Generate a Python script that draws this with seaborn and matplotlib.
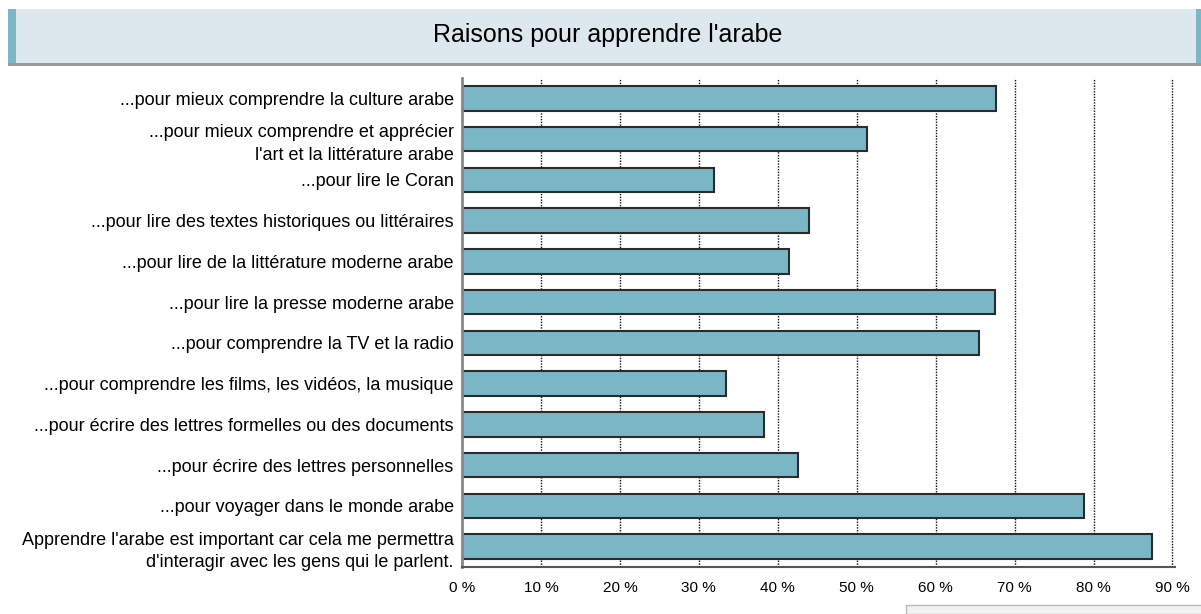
"""
Raisons pour apprendre l'arabe : barres horizontales
"""

import matplotlib
matplotlib.use("Agg")
import matplotlib.pyplot as plt
import matplotlib.ticker as mticker
from matplotlib.patches import Rectangle
import numpy as np
import pandas as pd
import seaborn as sns

# --- données ---
raisons = [
    "...pour mieux comprendre la culture arabe",
    "...pour mieux comprendre et apprécier\nl'art et la littérature arabe",
    "...pour lire le Coran",
    "...pour lire des textes historiques ou littéraires",
    "...pour lire de la littérature moderne arabe",
    "...pour lire la presse moderne arabe",
    "...pour comprendre la TV et la radio",
    "...pour comprendre les films, les vidéos, la musique",
    "...pour écrire des lettres formelles ou des documents",
    "...pour écrire des lettres personnelles",
    "...pour voyager dans le monde arabe",
    "Apprendre l'arabe est important car cela me permettra\nd'interagir avec les gens qui le parlent.",
]
pourcentages = [67.7, 51.3, 31.9, 43.9, 41.4, 67.5, 65.5, 33.4, 38.2, 42.5, 78.8, 87.4]
graduations = [0, 10, 20, 30, 40, 50, 60, 70, 80, 90]

TITRE = "Raisons pour apprendre l'arabe"
COULEUR_BARRE = "#7bb6c6"
COULEUR_BANDEAU = "#dde8ee"

sns.set_style("white")
plt.rcParams["font.family"] = ["Liberation Sans", "DejaVu Sans"]
plt.rcParams["text.color"] = "black"
plt.rcParams["xtick.color"] = "black"
plt.rcParams["ytick.color"] = "black"

df = pd.DataFrame({"raison": raisons, "pct": pourcentages})

fig = plt.figure(figsize=(12.01, 6.14), dpi=100)
ax = fig.add_axes([0.3847, 0.0765, 0.5935, 0.7965])

sns.barplot(data=df, y="raison", x="pct", orient="h", ax=ax,
            color=COULEUR_BARRE, edgecolor="#2b2b2b", linewidth=1.5,
            width=0.6, saturation=1)

ax.set_xlim(0, 90.3)
ax.set_ylim(len(raisons) - 0.5, -0.5)
ax.set_xticks(graduations)
ax.xaxis.set_major_formatter(mticker.FuncFormatter(lambda v, _: f"{v:.0f} %"))
ax.set_xlabel("")
ax.set_ylabel("")

# grille verticale en pointillés
for g in graduations[1:]:
    ax.axvline(g, color="#111111", linestyle=(0, (1, 1)), linewidth=1.0, zorder=0)

# repères entre catégories
ax.set_yticks(np.arange(-0.5, len(raisons)), minor=True)
ax.tick_params(axis="y", which="major", length=0, labelsize=13, pad=6)
ax.tick_params(axis="y", which="minor", length=14, width=1.6, direction="inout",
               color="#555555")
ax.tick_params(axis="x", which="major", length=12, width=1.3, direction="inout",
               labelsize=11, pad=4, color="#333333")
for t in ax.get_yticklabels():
    t.set_linespacing(1.42)

for s in ["top", "right"]:
    ax.spines[s].set_visible(False)
ax.spines["left"].set_color("#888888")
ax.spines["left"].set_linewidth(2)
ax.spines["bottom"].set_color("#555555")
ax.spines["bottom"].set_linewidth(1.5)

# bandeau de titre
fig.patches.append(Rectangle((0.007, 0.897), 1.0, 0.088, transform=fig.transFigure,
                             facecolor=COULEUR_BANDEAU, edgecolor="none", zorder=0))
fig.patches.append(Rectangle((0.007, 0.893), 1.0, 0.005, transform=fig.transFigure,
                             facecolor="#9a9a9a", edgecolor="none", zorder=1))
fig.patches.append(Rectangle((0.007, 0.897), 0.006, 0.088, transform=fig.transFigure,
                             facecolor=COULEUR_BARRE, edgecolor="none", zorder=1))
fig.patches.append(Rectangle((0.996, 0.897), 0.006, 0.088, transform=fig.transFigure,
                             facecolor=COULEUR_BARRE, edgecolor="none", zorder=1))
fig.text(0.506, 0.943, TITRE, ha="center", va="center", fontsize=18)

# filet gris en bas à droite
fig.patches.append(Rectangle((0.754, 0.0), 0.25, 0.015, transform=fig.transFigure,
                             facecolor="#f2f2f2", edgecolor="#bbbbbb", linewidth=1, zorder=0))

fig.savefig("out.png", dpi=100, facecolor="white")
